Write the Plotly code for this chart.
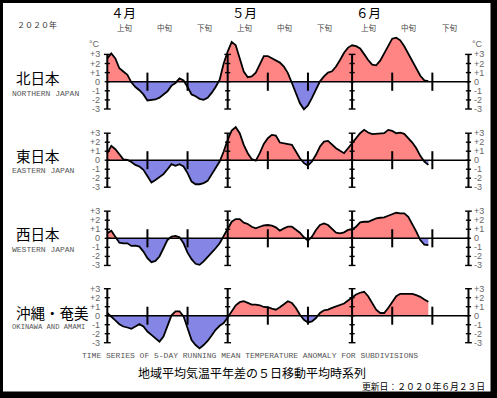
import numpy as np
import plotly.graph_objects as go

# ---------------- data (5-day running mean anomaly, deg C; day 0 = Apr 1) -------------
north = [2.56, 3.1, 2.56, 1.48, 1.12, 0.76, -0.07, -0.58, -0.94, -1.4, -2.06, -2.0, -1.95, -1.75,
         -1.45, -1.05, -0.43, -0.14, 0.36, 0.14, -0.58, -1.4, -1.6, -1.88, -2.0, -1.77, -1.23, -0.58,
         0.22, 2.0, 3.3, 4.37, 4.0, 2.56, 1.12, 0.5, 0.58, 1.0, 2.0, 2.82, 2.82, 2.56, 2.38, 2.1, 1.66,
         0.94, -0.14, -1.23, -2.38, -3.03, -2.6, -1.77, -0.87, 0.04, 0.58, 1.0, 1.15, 1.66, 2.38, 3.18,
         3.75, 4.0, 3.9, 3.65, 3.03, 2.38, 1.88, 1.8, 2.31, 3.1, 4.0, 4.73, 4.84, 4.55, 3.9, 3.1, 2.31,
         1.59, 0.65, 0.14, 0.07]
east = [0.78, 1.6, 1.22, 0.6, 0.1, 0.04, -0.19, -0.52, -0.7, -1.07, -1.8, -2.48, -2.19, -1.9, -1.55,
        -1.0, -0.44, -0.63, -0.44, -0.7, -1.44, -2.37, -2.67, -2.67, -2.55, -2.3, -1.63, -0.89, -0.15,
        0.96, 2.26, 3.3, 3.67, 3.0, 1.7, 0.78, 0.11, -0.04, 0.78, 1.81, 2.44, 2.81, 2.74, 1.96, 1.89,
        1.81, 1.7, 0.96, 0.22, -0.33, -0.6, -0.15, 0.6, 1.52, 2.07, 2.15, 1.7, 1.33, 1.04, 0.78, 1.33,
        1.89, 2.44, 3.0, 3.37, 3.07, 2.89, 2.93, 2.93, 3.0, 3.37, 3.26, 3.0, 3.07, 2.93, 2.44, 1.96,
        1.33, 0.48, -0.15, -0.52]
west = [0.55, 0.84, 0.18, -0.48, -0.55, -0.55, -0.84, -0.8, -0.92, -1.47, -2.2, -2.64, -2.5, -2.01,
        -1.1, -0.18, 0.18, 0.26, 0.11, -0.55, -1.58, -2.31, -2.82, -2.93, -2.56, -2.01, -1.58, -1.1,
        -0.55, 0.26, 1.1, 1.83, 2.12, 2.12, 1.72, 1.58, 1.28, 1.1, 1.28, 1.43, 1.47, 1.39, 1.21, 0.84,
        1.1, 1.28, 1.28, 0.99, 0.62, 0.11, -0.26, 0.18, 0.92, 1.47, 1.65, 1.47, 0.99, 0.62, 0.55, 0.66,
        0.92, 0.99, 1.28, 1.76, 1.83, 1.83, 2.01, 2.2, 2.27, 2.31, 2.49, 2.64, 2.82, 2.75, 2.75, 2.38,
        1.58, 0.73, -0.2, -0.7, -0.75]
okinawa = [0.3, -0.07, -0.52, -0.94, -1.2, -1.31, -1.46, -1.2, -0.94, -1.2, -1.76, -2.13, -2.51, -2.88,
           -2.32, -1.01, 0.04, 0.49, 0.49, -0.07, -1.31, -2.7, -3.26, -3.63, -3.26, -2.81, -2.21, -1.57,
           -1.12, -0.82, -0.19, 0.49, 1.16, 1.5, 1.61, 1.42, 1.24, 1.24, 1.16, 0.97, 0.94, 0.79, 0.67,
           0.94, 1.31, 1.61, 1.42, 0.86, 0.11, -0.45, -0.75, -0.64, -0.26, 0.3, 0.6, 0.67, 0.86, 1.05,
           1.24, 1.35, 1.69, 2.06, 2.36, 2.55, 2.66, 2.17, 1.42, 0.67, 0.3, 0.3, 0.86, 1.54, 2.17, 2.43,
           2.43, 2.43, 2.43, 2.28, 2.1, 1.8, 1.54]

region_jp = ["北日本", "東日本", "西日本", "沖縄・奄美"]
region_en = ["NORTHERN JAPAN", "EASTERN JAPAN", "WESTERN JAPAN", "OKINAWA AND AMAMI"]
series = [north, east, west, okinawa]

month_labels = ["４月", "５月", "６月"]
month_start_days = [0, 30, 61]
axis_end_day = 90
dekad_labels = ["上旬", "中旬", "下旬"] * 3
dekad_start_days = [0, 10, 20, 30, 40, 50, 61, 71, 81]
tick_values = [3, 2, 1, 0, -1, -2, -3]
tick_labels = ["+3", "+2", "+1", "0", "-1", "-2", "-3"]

# ---------------- layout geometry ----------------
W, H = 497, 398
X0PX, PXDAY = 107.3, 4.013
zero_px = [81.7, 160.2, 238.3, 315.7]
unit_px = [9.1, 9.0, 9.05, 9.0]
jp_y = [77, 155, 233, 312]
en_y = [93, 171, 249, 327]
en_size = [8, 8, 8, 7.2]

RED = "#FF8585"
BLUE = "#8585E6"


def px(x, y):
    return x / W, 1 - y / H


def with_crossings(xs, ys):
    X, Y = [xs[0]], [ys[0]]
    for k in range(1, len(xs)):
        y0, y1 = ys[k - 1], ys[k]
        if y0 * y1 < 0:
            t = y0 / (y0 - y1)
            X.append(xs[k - 1] + t * (xs[k] - xs[k - 1]))
            Y.append(0.0)
        X.append(xs[k])
        Y.append(ys[k])
    return np.array(X), np.array(Y)


fig = go.Figure()
shapes = []
annotations = []
layout_axes = {}

# white page inside the black frame
x0p, y1p = px(3, 3)
x1p, y0p = px(490.5, 391.5)
shapes.append(dict(type="rect", xref="paper", yref="paper", x0=x0p, x1=x1p, y0=y0p, y1=y1p,
                   fillcolor="white", line=dict(width=0), layer="below"))

tick_hw = 2.6 / PXDAY
all_axes_days = month_start_days + [axis_end_day]
dekad_ticks = [d for d in dekad_start_days if d not in month_start_days]

for i, vals in enumerate(series):
    yid = "y" if i == 0 else f"y{i + 1}"
    ykey = "yaxis" if i == 0 else f"yaxis{i + 1}"
    z, u = zero_px[i], unit_px[i]
    ax = dict(range=[(z - H) / u, z / u], domain=[0, 1], visible=False, fixedrange=True)
    if i > 0:
        ax["overlaying"] = "y"
    layout_axes[ykey] = ax

    xs = np.arange(len(vals), dtype=float)
    X, Y = with_crossings(xs, np.array(vals, dtype=float))
    fig.add_trace(go.Scatter(x=X, y=np.maximum(Y, 0), mode="lines", fill="tozeroy", fillcolor=RED,
                             line=dict(width=0, color="rgba(0,0,0,0)"), yaxis=yid, hoverinfo="skip",
                             showlegend=False))
    fig.add_trace(go.Scatter(x=X, y=np.minimum(Y, 0), mode="lines", fill="tozeroy", fillcolor=BLUE,
                             line=dict(width=0, color="rgba(0,0,0,0)"), yaxis=yid, hoverinfo="skip",
                             showlegend=False))

    # zero line
    shapes.append(dict(type="line", xref="x", yref=yid, x0=0, x1=axis_end_day, y0=0, y1=0,
                       line=dict(color="black", width=1.5)))
    # vertical month axes with unit ticks
    for d in all_axes_days:
        shapes.append(dict(type="line", xref="x", yref=yid, x0=d, x1=d, y0=-3, y1=3,
                           line=dict(color="black", width=2)))
        for v in tick_values:
            hw = tick_hw * (1.3 if abs(v) == 3 else 1.0)
            shapes.append(dict(type="line", xref="x", yref=yid, x0=d - hw, x1=d + hw, y0=v, y1=v,
                               line=dict(color="black", width=1.4)))
    # dekad ticks
    for d in dekad_ticks:
        shapes.append(dict(type="line", xref="x", yref=yid, x0=d, x1=d, y0=-1.0, y1=1.0,
                           line=dict(color="black", width=2)))

    # data curve
    fig.add_trace(go.Scatter(x=xs, y=vals, mode="lines", line=dict(color="black", width=1.8),
                             yaxis=yid, showlegend=False, hoverinfo="skip"))

    # tick labels
    for v, t in zip(tick_values, tick_labels):
        annotations.append(dict(text=t, xref="x", yref=yid, x=0, y=v, xshift=-5, xanchor="right",
                                yanchor="middle", showarrow=False,
                                font=dict(family="Liberation Sans, Arial", size=9, color="#666")))
        annotations.append(dict(text=t, xref="x", yref=yid, x=axis_end_day, y=v, xshift=4,
                                xanchor="left", yanchor="middle", showarrow=False,
                                font=dict(family="Liberation Sans, Arial", size=9, color="#666")))
    if i == 0:
        for xd, xa, sh in [(0, "right", -5), (axis_end_day, "left", 2)]:
            annotations.append(dict(text="°C", xref="x", yref=yid, x=xd, y=3, xshift=sh, yshift=10,
                                    xanchor=xa, yanchor="middle", showarrow=False,
                                    font=dict(family="Liberation Sans, Arial", size=9, color="#666")))

    # region labels
    ax_, ay_ = px(14, jp_y[i])
    annotations.append(dict(text=region_jp[i], xref="paper", yref="paper", x=ax_, y=ay_,
                            xanchor="left", yanchor="middle", showarrow=False,
                            font=dict(family="Noto Sans CJK JP", size=14.5, color="black")))
    ax_, ay_ = px(10, en_y[i])
    annotations.append(dict(text=region_en[i], xref="paper", yref="paper", x=ax_, y=ay_,
                            xanchor="left", yanchor="middle", showarrow=False,
                            font=dict(family="Liberation Mono, Courier New", size=en_size[i],
                                      color="#555")))

# month and dekad labels on top
for lab, d in zip(month_labels, month_start_days):
    annotations.append(dict(text=lab, xref="x", yref="paper", x=d, y=px(0, 13)[1], xshift=2,
                            xanchor="left", yanchor="middle", showarrow=False,
                            font=dict(family="Noto Sans CJK JP", size=12.5, color="black")))
for lab, d in zip(dekad_labels, dekad_start_days):
    annotations.append(dict(text=lab, xref="x", yref="paper", x=d + 4.3, y=px(0, 28)[1],
                            xanchor="center", yanchor="middle", showarrow=False,
                            font=dict(family="Noto Sans CJK JP", size=7.5, color="#444")))

# other texts
def ptext(text, x, y, size, family, color="black", xanchor="left"):
    a, b = px(x, y)
    annotations.append(dict(text=text, xref="paper", yref="paper", x=a, y=b, xanchor=xanchor,
                            yanchor="middle", showarrow=False,
                            font=dict(family=family, size=size, color=color)))

ptext("２０２０年", 15, 24, 8, "Noto Sans CJK JP", "#333")
ptext("TIME SERIES OF 5-DAY RUNNING MEAN TEMPERATURE ANOMALY FOR SUBDIVISIONS", 80, 355, 8,
      "Liberation Mono, Courier New", "#555")
ptext("地域平均気温平年差の５日移動平均時系列", 251.5, 372, 12, "Noto Sans CJK JP", "black", "center")
ptext("更新日：２０２０年６月２３日", 487, 386, 8.8, "Noto Sans CJK JP", "black", "right")

fig.update_layout(
    width=W, height=H, autosize=False,
    margin=dict(l=0, r=0, t=0, b=0, pad=0),
    paper_bgcolor="black", plot_bgcolor="rgba(0,0,0,0)",
    xaxis=dict(range=[-X0PX / PXDAY, (W - X0PX) / PXDAY], domain=[0, 1], visible=False,
               fixedrange=True),
    shapes=shapes, annotations=annotations, showlegend=False,
    **layout_axes,
)

fig.write_html("out.html", config={"displayModeBar": False},
               post_script="document.body.style.margin='0';document.body.style.padding='0';"
                           "document.body.style.overflow='hidden';")
